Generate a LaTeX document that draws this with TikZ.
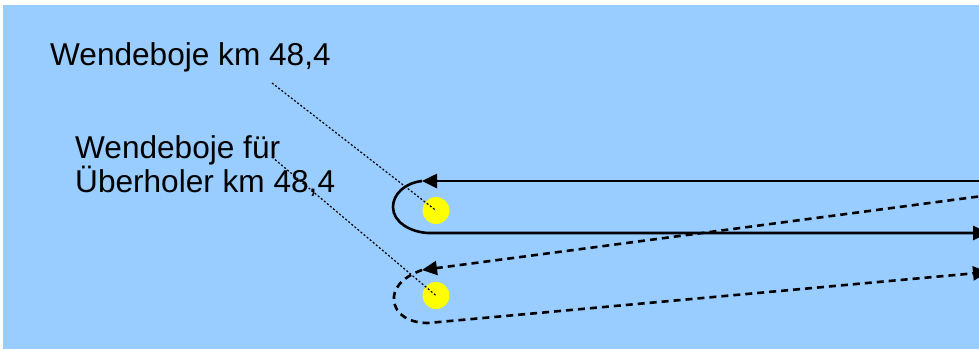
\documentclass[tikz,border=0pt]{standalone}
\usepackage{fontspec}
\setmainfont{Liberation Sans}
\usetikzlibrary{arrows.meta}
\definecolor{water}{HTML}{99CCFF}
\definecolor{buoy}{HTML}{FFFF00}
\begin{document}
\begin{tikzpicture}[x=1pt,y=-1pt,
  course/.style={line width=2.6pt},
  overtake/.style={line width=2.6pt, dash pattern=on 7pt off 5pt},
  leader/.style={line width=1.2pt, dash pattern=on 2pt off 2pt},
  tipped/.style={-{Triangle[length=15pt,width=14pt]}},
  buoymark/.style={circle, fill=buoy, minimum size=27pt, inner sep=0pt},
  lbl/.style={font=\fontsize{31.6}{35}\selectfont, inner sep=0pt, anchor=base west}]
\useasboundingbox (0,0) rectangle (979,349);
\fill[water] (3,5) rectangle (979,349);
\clip (3,5) rectangle (979,349);

% labels
\node[lbl] (t1) at (50,65) {Wendeboje km 48,4};
\node[lbl] (t2) at (75,158) {Wendeboje für};
\node[lbl] (t3) at (75,192) {Überholer km 48,4};

% buoys
\node[buoymark] (b1) at (436,210.5) {};
\node[buoymark] (b2) at (436,295.5) {};

% regular turning course
\coordinate (sA) at (985,181);
\coordinate (sB) at (422,181);
\coordinate (sC) at (428,233);
\coordinate (sD) at (988,233);
\draw[course,tipped] (sA) -- (sB);
\draw[course,tipped] (sB) .. controls (405,183) and (393,194) .. (393,207)
  .. controls (393,222) and (410,232) .. (sC) -- (sD);

% overtaking course
\coordinate (dA) at (990,195);
\coordinate (dB) at (422,270);
\coordinate (dC) at (428,323);
\coordinate (dD) at (988,272);
\draw[overtake,tipped] (dA) -- (dB);
\draw[overtake,tipped] (dB) .. controls (400,278) and (393,290) .. (394,300)
  .. controls (395,315) and (410,323) .. (dC) -- (dD);

% leader lines
\coordinate (l1) at (272,83);
\coordinate (l2) at (272,157);
\draw[leader] (l1) -- (b1.center);
\draw[leader] (l2) -- (b2.center);
\end{tikzpicture}
\end{document}
